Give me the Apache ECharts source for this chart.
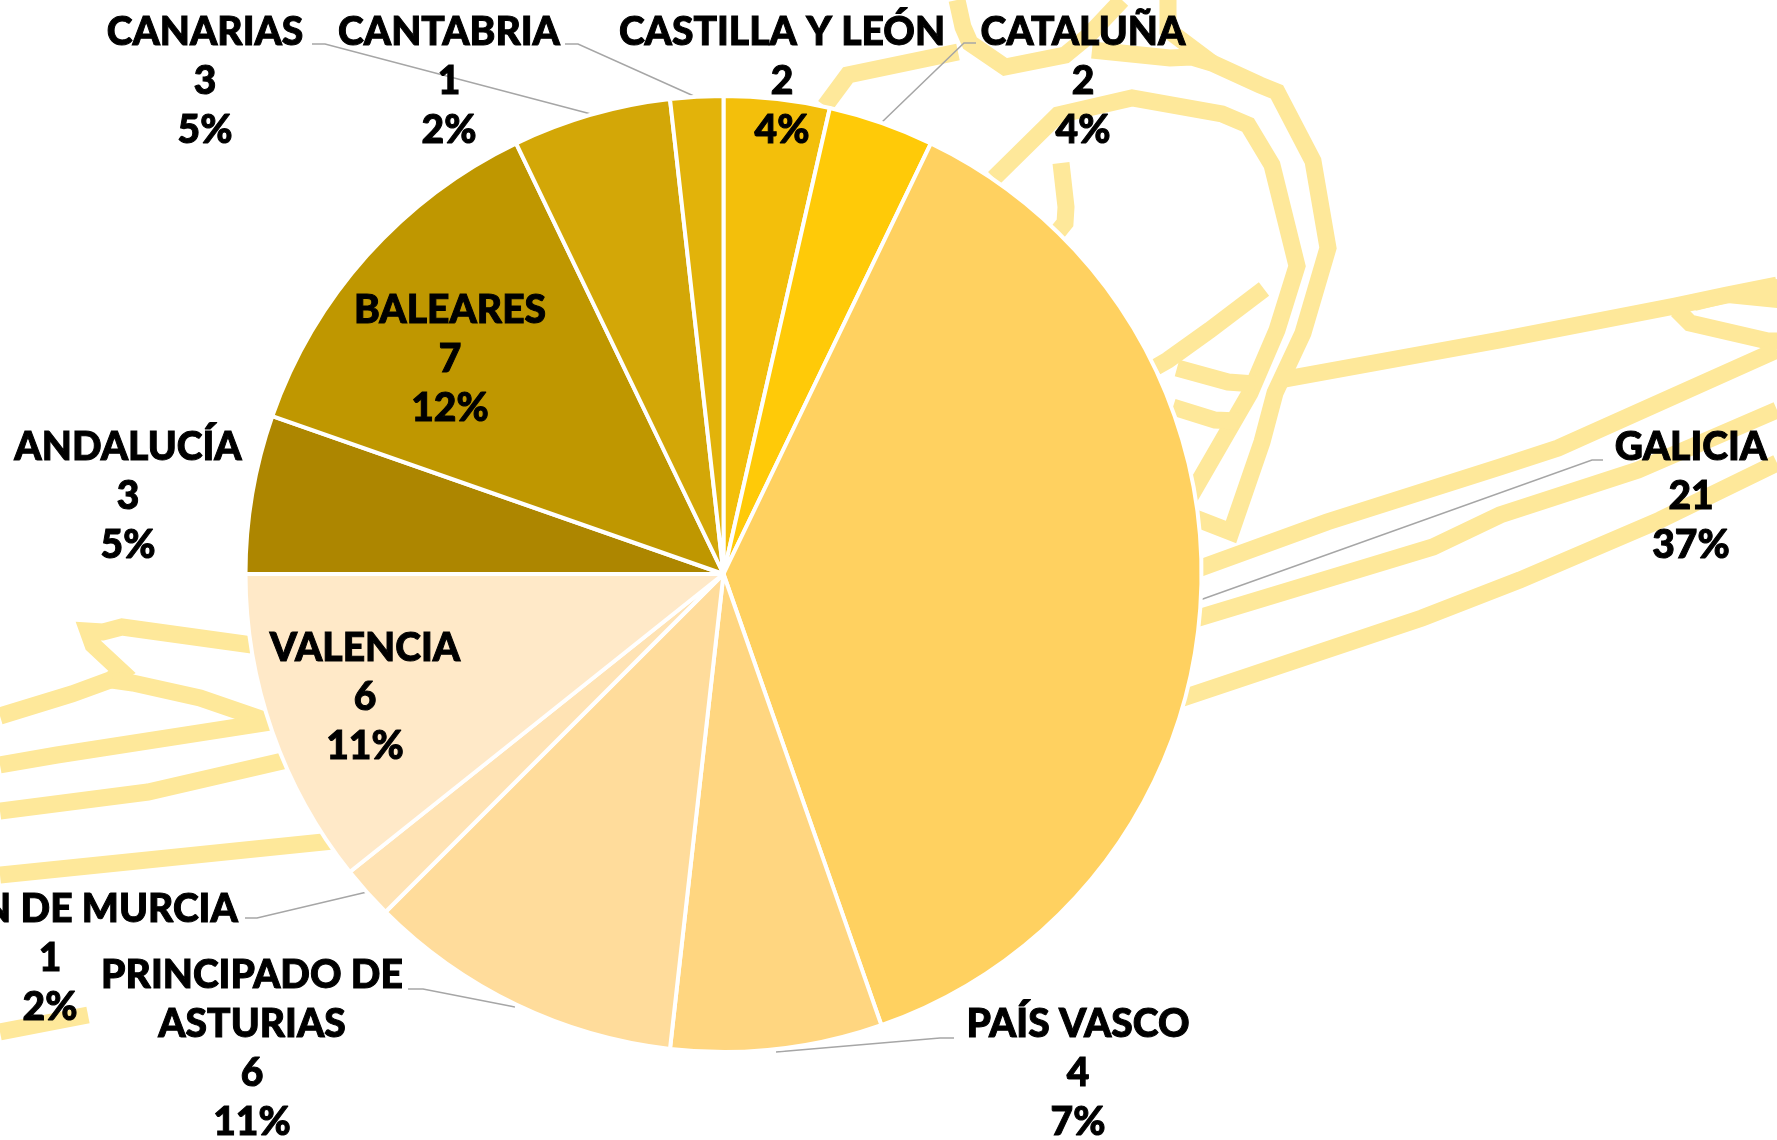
<!DOCTYPE html>
<html>
<head>
<meta charset="utf-8">
<title>Comunidades</title>
<script src="https://cdn.jsdelivr.net/npm/echarts@6/dist/echarts.min.js"></script>
<style>
    html, body { margin: 0; padding: 0; background: #fff; }
    #chart { width: 1777px; height: 1140px; }
</style>
</head>
<body>
<div id="chart"></div>
<script>
const regions = [
    "CASTILLA Y LEÓN", "CATALUÑA", "GALICIA", "PAÍS VASCO",
    "PRINCIPADO DE\nASTURIAS", "REGIÓN DE MURCIA", "VALENCIA",
    "ANDALUCÍA", "BALEARES", "CANARIAS", "CANTABRIA",
];
const counts = [2, 2, 21, 4, 6, 1, 6, 3, 7, 3, 1];
const shares = ["4%", "4%", "37%", "7%", "11%", "2%", "11%", "5%", "12%", "5%", "2%"];
const sliceColors = [
    "#F3BF0B", "#FFCA08", "#FFD160", "#FFD680", "#FFDC9B", "#FFE3B4",
    "#FFE9C8", "#AD8600", "#BF9700", "#D3A707", "#E2B30A",
];

// label block centres, same order as regions
const labelCentres = [
    [782, 81], [1083, 81], [1691, 496], [1078, 1073], [252, 1049], [50, 958],
    [365, 697], [128, 496], [450, 359], [205, 81], [449, 81],
];
// leader lines, null where the label has none
const leaders = [
    null,
    [[976, 43], [964, 43], [881, 123]],
    [[1603, 460], [1592, 460], [1200, 600]],
    [[954, 1038], [940, 1038], [776, 1052]],
    [[408, 989], [423, 989], [515, 1007]],
    [[245, 918], [257, 918], [367, 892]],
    null,
    null,
    null,
    [[312, 44], [325, 44], [591, 114]],
    [[565, 44], [578, 44], [696, 97]],
];

// decorative map outline behind the pie
const mapOutline = [
    [[994, 178], [1058, 115], [1132, 98], [1222, 114], [1248, 125], [1272, 165], [1297, 266], [1277, 330], [1250, 393], [1190, 497]],
    [[1092, 50], [1170, 58], [1192, 57], [1212, 63], [1260, 85], [1277, 92], [1313, 161], [1328, 248], [1303, 333], [1275, 393], [1262, 442], [1231, 532], [1195, 518]],
    [[1280, 380], [1500, 340], [1675, 306], [1727, 295], [1777, 285]],
    [[1677, 310], [1690, 323], [1768, 341], [1777, 341]],
    [[1777, 350], [1558, 448], [1500, 467], [1327, 522], [1195, 570]],
    [[1777, 410], [1638, 470], [1500, 515], [1433, 547], [1195, 619]],
    [[1777, 463], [1660, 520], [1520, 580], [1422, 618], [1180, 699]],
    [[1061, 163], [1066, 207], [1065, 223], [1056, 234]],
    [[825, 106], [848, 75], [958, 52]],
    [[957, 0], [963, 27], [970, 43], [1005, 67], [1065, 55], [1087, 37], [1122, 0]],
    [[1168, 0], [1168, 30], [1212, 63]],
    [[1156, 367], [1168, 360], [1210, 330], [1264, 289]],
    [[1177, 368], [1228, 382], [1255, 384]],
    [[1173, 407], [1215, 420], [1238, 421]],
    [[252, 645], [122, 627], [103, 632], [88, 631], [93, 645], [122, 672], [110, 680], [72, 694], [0, 716]],
    [[112, 680], [133, 683], [200, 698], [270, 722]],
    [[270, 722], [57, 755], [0, 765]],
    [[287, 760], [148, 792], [0, 811]],
    [[333, 841], [0, 875]],
    [[88, 1015], [0, 1032]],
];
const mapWedge = [[1695, 311], [1727, 288], [1777, 279], [1777, 308], [1727, 303]];
const mapColor = "#FEE89A";

const myChart = echarts.init(document.getElementById("chart"));

const graphicElements = mapOutline.map((points) => ({
    type: "polyline",
    z: -10,
    silent: true,
    shape: { points },
    style: { stroke: mapColor, lineWidth: 17, fill: null, lineJoin: "miter" },
}));
graphicElements.push({
    type: "polygon",
    z: -10,
    silent: true,
    shape: { points: mapWedge },
    style: { fill: mapColor },
});

const option = {
    animation: false,
    backgroundColor: "#fff",
    graphic: { elements: graphicElements },
    series: [
        {
            type: "pie",
            center: [723.5, 574],
            radius: [0, 478],
            startAngle: 90,
            clockwise: true,
            avoidLabelOverlap: false,
            minShowLabelAngle: 0,
            itemStyle: { borderColor: "#fff", borderWidth: 4 },
            label: {
                show: true,
                position: "outside",
                color: "#000",
                fontFamily: "Lato",
                fontWeight: 900,
                fontSize: 39,
                lineHeight: 49,
                align: "center",
                textBorderColor: "#000",
                textBorderWidth: 1,
                formatter: (p) => `${p.name}\n${p.value}\n${shares[p.dataIndex]}`,
            },
            labelLine: {
                show: true,
                lineStyle: { color: "#A6A6A6", width: 1.5 },
            },
            labelLayout: (p) => ({
                x: labelCentres[p.dataIndex][0],
                y: labelCentres[p.dataIndex][1],
                align: "center",
                verticalAlign: "middle",
                labelLinePoints: leaders[p.dataIndex] || undefined,
            }),
            data: regions.map((name, i) => ({
                name,
                value: counts[i],
                itemStyle: { color: sliceColors[i] },
                labelLine: { show: leaders[i] !== null },
            })),
        },
    ],
};

myChart.setOption(option);
</script>
</body>
</html>
